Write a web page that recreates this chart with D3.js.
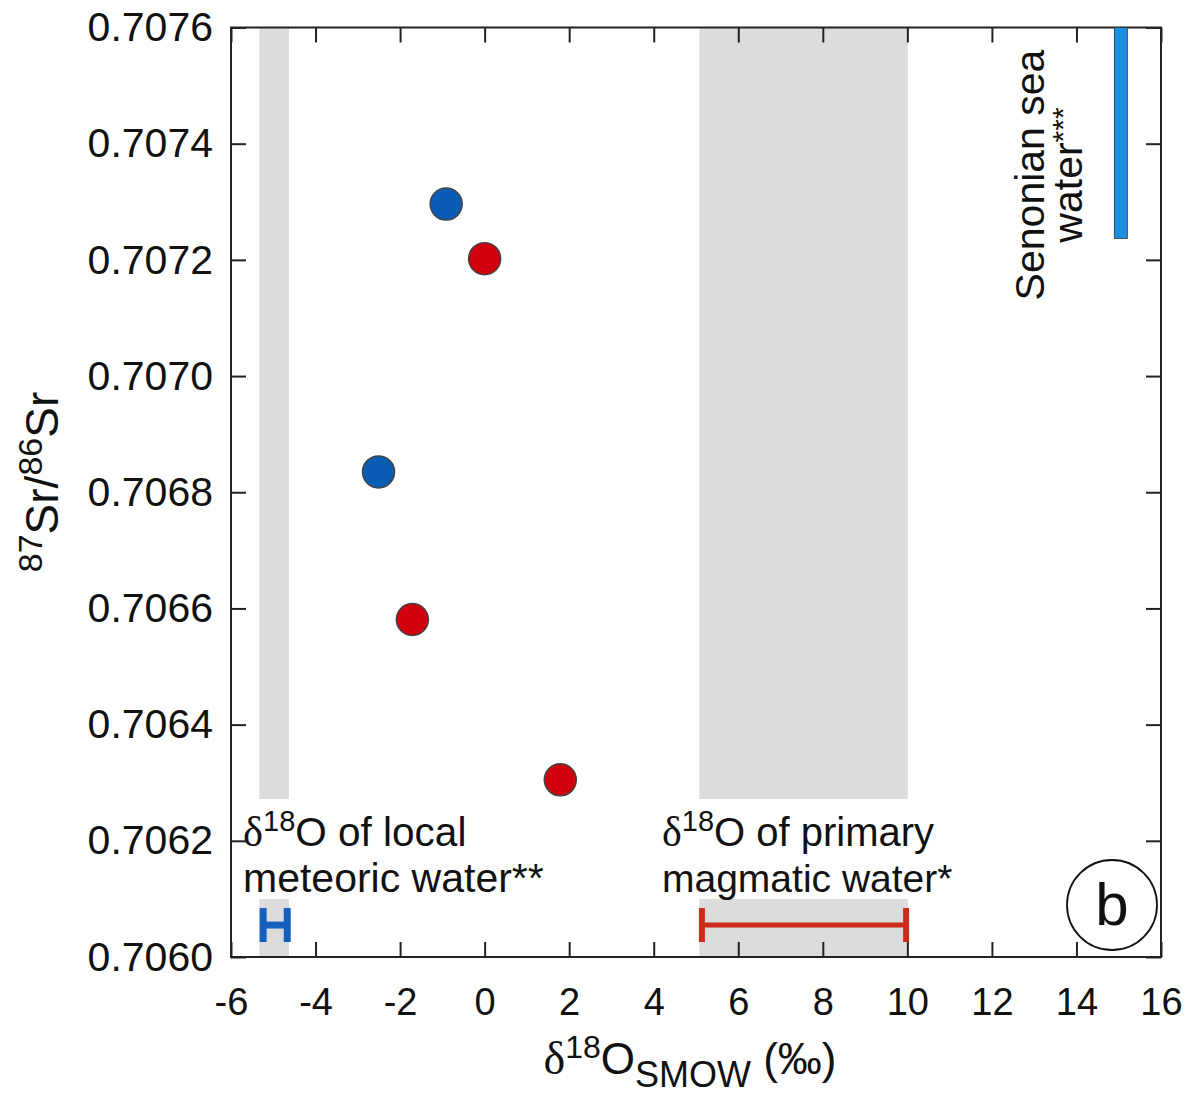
<!DOCTYPE html>
<html><head><meta charset="utf-8">
<script src="https://cdn.jsdelivr.net/npm/d3@7"></script>
<style>body{margin:0;background:#fff}svg{display:block}text{font-family:"Liberation Sans",Arial,sans-serif;fill:#111}</style>
</head><body>
<script>
const xTicks = [-6,-4,-2,0,2,4,6,8,10,12,14,16];
const yTicks = [0.7060,0.7062,0.7064,0.7066,0.7068,0.7070,0.7072,0.7074,0.7076];
const blueX = [-0.91, -2.51];
const blueY = [0.707296, 0.706835];
const redX = [0.0, -1.71, 1.79];
const redY = [0.707202, 0.706581, 0.706305];
const meteoricBand = [-5.33, -4.63];
const meteoricBar = [-5.24, -4.67];
const magmaticBand = [5.08, 10.01];
const magmaticBar = [5.14, 9.97];
const rangeBarY = 0.706055;
const senonianX = 15.05;
const senonianY = [0.707237, 0.7076];
const labelGapY = [0.7061, 0.706272];

const W = 1187, H = 1107;
const L = 231, R = 1161, T = 27.5, B = 957;
const svg = d3.select("body").append("svg").attr("width", W).attr("height", H);
const x = d3.scaleLinear().domain([-6, 16]).range([L, R]);
const y = d3.scaleLinear().domain([0.7060, 0.7076]).range([B, T]);

// gray bands (split around labels)
const bands = [meteoricBand, magmaticBand];
bands.forEach(b => {
  svg.append("rect").attr("x", x(b[0])).attr("width", x(b[1]) - x(b[0]))
    .attr("y", T).attr("height", y(labelGapY[1]) - T).attr("fill", "#dcdcdc");
  svg.append("rect").attr("x", x(b[0])).attr("width", x(b[1]) - x(b[0]))
    .attr("y", y(labelGapY[0])).attr("height", B - y(labelGapY[0])).attr("fill", "#dcdcdc");
});

// axes with inner ticks
const tl = 15;
const fmtY = d3.format(".4f");
const gL = svg.append("g").attr("transform", `translate(${L},0)`)
  .call(d3.axisLeft(y).tickValues(yTicks).tickFormat(fmtY).tickSize(-tl).tickPadding(18));
const gR = svg.append("g").attr("transform", `translate(${R},0)`)
  .call(d3.axisRight(y).tickValues(yTicks).tickFormat("").tickSize(-tl));
const gB = svg.append("g").attr("transform", `translate(0,${B})`)
  .call(d3.axisBottom(x).tickValues(xTicks).tickFormat(d => d < 0 ? "-" + Math.abs(d) : d).tickSize(-tl).tickPadding(31));
const gT = svg.append("g").attr("transform", `translate(0,${T})`)
  .call(d3.axisTop(x).tickValues(xTicks).tickFormat("").tickSize(-tl));
[gL, gR, gB, gT].forEach(g => {
  g.select(".domain").remove();
  g.selectAll(".tick line").attr("stroke", "#222").attr("stroke-width", 2);
  g.selectAll("text").attr("fill", "#111").style("font-family", '"Liberation Sans",Arial,sans-serif');
});
gL.selectAll("text").attr("font-size", 41);
gB.selectAll("text").attr("font-size", 38);

// frame
svg.append("rect").attr("x", L).attr("y", T).attr("width", R - L).attr("height", B - T)
  .attr("fill", "none").attr("stroke", "#222").attr("stroke-width", 2);

// Senonian sea water bar
svg.append("rect").attr("x", x(senonianX) - 6.5).attr("width", 13)
  .attr("y", y(senonianY[1])).attr("height", y(senonianY[0]) - y(senonianY[1]))
  .attr("fill", "#1a8fe3").attr("stroke", "#333").attr("stroke-width", 0.8);

// meteoric range bar (H)
const by = y(rangeBarY);
const hg = svg.append("g").attr("stroke", "#1560bd").attr("stroke-width", 7).attr("fill", "none");
hg.append("line").attr("x1", x(meteoricBar[0])).attr("x2", x(meteoricBar[1])).attr("y1", by).attr("y2", by);
meteoricBar.forEach(v => hg.append("line").attr("x1", x(v)).attr("x2", x(v)).attr("y1", by - 17).attr("y2", by + 17));

// magmatic range bar
const rg = svg.append("g").attr("stroke", "#cc2a1a").attr("fill", "none");
rg.append("line").attr("x1", x(magmaticBar[0])).attr("x2", x(magmaticBar[1])).attr("y1", by).attr("y2", by).attr("stroke-width", 5);
magmaticBar.forEach(v => rg.append("line").attr("x1", x(v)).attr("x2", x(v)).attr("y1", by - 17).attr("y2", by + 17).attr("stroke-width", 6));

// points
const pts = blueX.map((v, i) => ({x: v, y: blueY[i], c: "#0a5cb4"}))
  .concat(redX.map((v, i) => ({x: v, y: redY[i], c: "#d0000c"})));
svg.selectAll("circle.pt").data(pts).enter().append("circle").attr("class", "pt")
  .attr("cx", d => x(d.x)).attr("cy", d => y(d.y)).attr("r", 16)
  .attr("fill", d => d.c).attr("stroke", "#444").attr("stroke-width", 1.5);

// annotation text helper
function deltaLabel(tx, ty, rest, fs) {
  const t = svg.append("text").attr("x", tx).attr("y", ty).attr("font-size", fs);
  t.append("tspan").text("δ").style("font-family", '"Liberation Serif",serif').attr("font-size", fs + 2);
  t.append("tspan").text("18").attr("font-size", 29).attr("dy", -15);
  t.append("tspan").text(rest).attr("dy", 15);
  return t;
}
deltaLabel(243, 846, "O of local", 40.5);
svg.append("text").attr("x", 243).attr("y", 892).attr("font-size", 41).text("meteoric water**");
deltaLabel(662, 846, "O of primary", 40);
svg.append("text").attr("x", 662).attr("y", 892).attr("font-size", 39).text("magmatic water*");

// Senonian label rotated
const sg = svg.append("g").attr("transform", "translate(1044,175) rotate(-90)");
sg.append("text").attr("x", 0).attr("y", 0).attr("text-anchor", "middle").attr("font-size", 41).text("Senonian sea");
const w2 = sg.append("text").attr("x", 0).attr("y", 38).attr("text-anchor", "middle").attr("font-size", 41);
w2.append("tspan").text("water");
w2.append("tspan").text("***").attr("font-size", 30).attr("dy", -9);

// panel label
svg.append("circle").attr("cx", 1112).attr("cy", 905).attr("r", 45).attr("fill", "#fff").attr("stroke", "#111").attr("stroke-width", 1.8);
svg.append("text").attr("x", 1112).attr("y", 925).attr("text-anchor", "middle").attr("font-size", 60).text("b");

// axis titles
const xt = svg.append("text").attr("x", 690).attr("y", 1074).attr("text-anchor", "middle").attr("font-size", 44);
xt.append("tspan").text("δ").style("font-family", '"Liberation Serif",serif').attr("font-size", 46);
xt.append("tspan").text("18").attr("font-size", 32).attr("dy", -16);
xt.append("tspan").text("O").attr("dy", 16);
xt.append("tspan").text("SMOW").attr("font-size", 36).attr("dy", 13);
xt.append("tspan").text(" (‰)").attr("dy", -13);

const yt = svg.append("text").attr("transform", "translate(58,482) rotate(-90)").attr("text-anchor", "middle").attr("font-size", 46);
yt.append("tspan").text("87").attr("font-size", 34).attr("dy", -16);
yt.append("tspan").text("Sr/").attr("dy", 16);
yt.append("tspan").text("86").attr("font-size", 34).attr("dy", -16);
yt.append("tspan").text("Sr").attr("dy", 16);
</script>
</body></html>
